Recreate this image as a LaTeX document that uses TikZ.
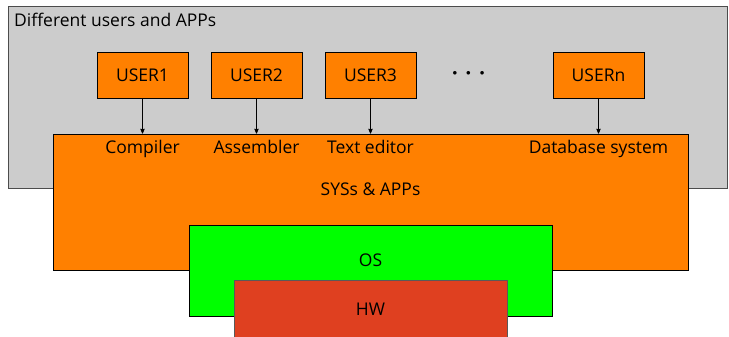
\documentclass[tikz,border=0pt]{standalone}
\usepackage{fontspec}
\setmainfont{Open Sans}
\usepackage{tikz}
\usetikzlibrary{shapes,arrows}
\definecolor{apporange}{RGB}{255,128,0}
\definecolor{osgreen}{RGB}{0,255,0}
\definecolor{hwred}{RGB}{223,64,32}
\tikzstyle{user} = [draw, fill=apporange, text centered, minimum width=91pt, minimum height=46pt, line width=0.8pt]
\tikzstyle{layer} = [draw, line width=0.8pt, inner sep=0pt]
\tikzstyle{app} = [text centered, inner sep=0pt, text height=12.5pt, text depth=4pt, yshift=-1.5pt]

\begin{document}
\begin{tikzpicture}[x=1pt,y=-1pt,>=stealth',auto,node distance=114pt,font=\fontsize{17.5}{20}\selectfont]
  \useasboundingbox (0,0) rectangle (729,337);
  \clip (0,0) rectangle (729,337);
  % background frame
  \node[layer,draw=black!70,fill=black!20,minimum width=719pt,minimum height=182pt] (frame) at (367.5,97) {};
  \node[anchor=west,inner sep=0pt] (title) at (14,20) {Different users and APPs};

  \node[user] (user1) at (142.5,75) {USER1};
  \node[user,right of=user1] (user2) {USER2};
  \node[user,right of=user2] (user3) {USER3};
  \node[user,right of=user3,node distance=228pt] (usern) {USERn};
  \node[inner sep=0pt,font=\fontsize{9}{9}\selectfont] (dots) at (468.5,73) {$\bullet$\hspace{9pt}$\bullet$\hspace{9pt}$\bullet$};

  % layers
  \node[layer,fill=apporange,minimum width=635pt,minimum height=136pt] (sys) at (370.5,202) {};
  \node[layer,fill=osgreen,minimum width=363pt,minimum height=91pt] (os) at (370.5,270.5) {};
  \node[layer,draw=black!65,fill=hwred,minimum width=273pt,minimum height=60pt] (hw) at (370.5,310) {};
  \node[app] (syslabel) at (370.5,190) {SYSs \& APPs};
  \node[app] (oslabel) at (370.5,261) {OS};
  \node[app] (hwlabel) at (370.5,310) {HW};

  \node[app,below of=user1,node distance=73pt] (compiler) {Compiler};
  \node[app,below of=user2,node distance=73pt] (assembler) {Assembler};
  \node[app,below of=user3,node distance=73pt] (editor) {Text editor};
  \node[app,below of=usern,node distance=73pt] (database) {Database system};

  \begin{scope}[every path/.style=draw,line width=0.8pt]
    \path[->] (user1) -- (user1 |- sys.north);
    \path[->] (user2) -- (user2 |- sys.north);
    \path[->] (user3) -- (user3 |- sys.north);
    \path[->] (usern) -- (usern |- sys.north);
  \end{scope}
\end{tikzpicture}
\end{document}
